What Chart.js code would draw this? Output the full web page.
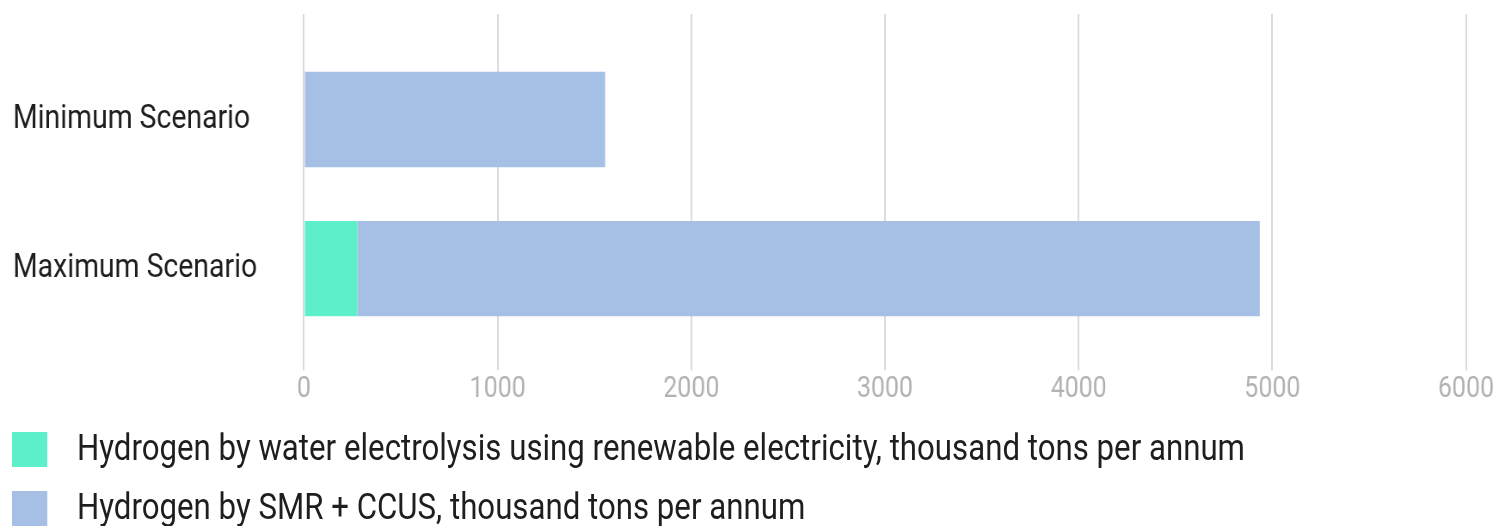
<!DOCTYPE html>
<html>
<head>
<meta charset="utf-8">
<script src="https://cdn.jsdelivr.net/npm/chart.js@4.4.1/dist/chart.umd.min.js"></script>
<style>
  html,body{margin:0;padding:0;background:#fff;overflow:hidden;width:1501px;height:526px}
  /* the reference uses a condensed face; squeeze Roboto horizontally */
  #wrap{position:absolute;left:0;top:0;width:1745px;height:526px;transform:scaleX(0.86);transform-origin:0 0}
  #box{position:relative;width:1745px;height:420px}
  #legend{font-family:Roboto,sans-serif;font-size:36.3px;color:#1e1e1e}
  .lg-row{display:flex;align-items:center;height:59px}
  .lg-row span{position:relative;top:-2px}
  .lg-sw{width:40.7px;height:35px;margin-left:14px;margin-right:34.8px;flex:none}
</style>
</head>
<body>
<div id="wrap">
  <div id="box"><canvas id="chartH2"></canvas></div>
  <div id="legend"></div>
</div>
<script>
const categories   = ['Minimum Scenario', 'Maximum Scenario'];
const electrolysis = [0, 275];
const smrCcus      = [1555, 4660];
const seriesNames  = [
  'Hydrogen by water electrolysis using renewable electricity, thousand tons per annum',
  'Hydrogen by SMR + CCUS, thousand tons per annum'
];
const seriesColors = ['#5cefca', '#a6bfe4'];
const xTicks       = [0, 1000, 2000, 3000, 4000, 5000, 6000];

const K = 0.86;            // horizontal squeeze applied to #wrap
const GRID = '#dadada';

Chart.defaults.font.family = 'Roboto';
Chart.defaults.animation = false;

const ctx = document.getElementById('chartH2');
new Chart(ctx, {
  type: 'bar',
  data: {
    labels: categories,
    datasets: [
      { label: seriesNames[0], data: electrolysis, backgroundColor: seriesColors[0], borderWidth: 0 },
      { label: seriesNames[1], data: smrCcus,      backgroundColor: seriesColors[1], borderWidth: 0 }
    ]
  },
  options: {
    indexAxis: 'y',
    responsive: true, maintainAspectRatio: false,
    layout: { padding: { top: 14, left: 15, right: 1745 - 1466 / K, bottom: 11 } },
    datasets: { bar: { barPercentage: 0.64, categoryPercentage: 1 } },
    plugins: { legend: { display: false }, tooltip: { enabled: false } },
    scales: {
      x: {
        stacked: true, min: 0, max: 6000,
        afterBuildTicks: s => { s.ticks = xTicks.map(v => ({ value: v })); },
        grid: { color: GRID, lineWidth: 2, tickLength: 27 },
        border: { display: false },
        ticks: { color: '#b2b2b2', font: { size: 29 }, padding: 2, callback: v => String(v) }
      },
      x2: {
        position: 'top', min: 0, max: 6000,
        afterBuildTicks: s => { s.ticks = xTicks.map(v => ({ value: v })); },
        grid: { color: GRID, lineWidth: 2, tickLength: 31, drawOnChartArea: false },
        border: { display: false },
        ticks: { display: false }
      },
      y: {
        stacked: true,
        afterFit: s => { s.width = 304 / K - 15; },
        grid: { display: false },
        border: { display: false },
        ticks: { color: '#1e1e1e', font: { size: 33 }, crossAlign: 'far' }
      }
    }
  }
});

document.getElementById('legend').innerHTML = seriesNames.map((n, i) => `
  <div class="lg-row">
    <div class="lg-sw" style="background:${seriesColors[i]}"></div>
    <span>${n}</span>
  </div>`).join('');
</script>
</body>
</html>
